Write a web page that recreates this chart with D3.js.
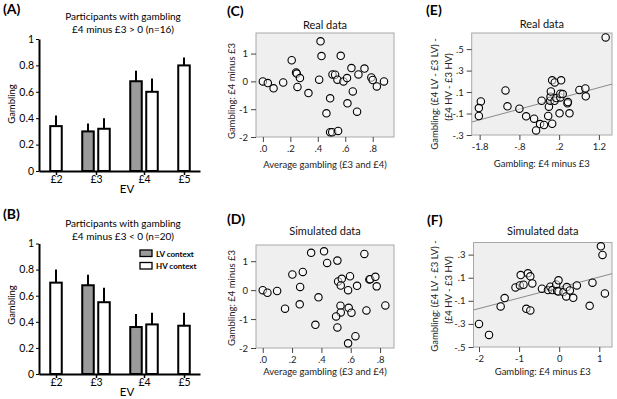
<!DOCTYPE html>
<html>
<head>
<meta charset="utf-8">
<script src="https://cdn.jsdelivr.net/npm/d3@7"></script>
<style>
  body { margin: 0; background: #fff; }
  svg { display: block; font-family: Lato, "Open Sans", sans-serif; }
</style>
</head>
<body>
<svg id="fig" width="617" height="399"></svg>
<script>
// ---- bar charts (A) and (B) ----
const evLabels = ["£2", "£3", "£4", "£5"];
const barEV = ["£2", "£3", "£3", "£4", "£4", "£5"];
const barContext = ["HV", "LV", "HV", "LV", "HV", "HV"];
const gamblingUp = [0.34, 0.30, 0.32, 0.68, 0.60, 0.80];   // £4 minus £3 > 0
const errUp = [0.08, 0.06, 0.08, 0.08, 0.10, 0.06];
const gamblingDown = [0.70, 0.68, 0.55, 0.36, 0.38, 0.37]; // £4 minus £3 < 0
const errDown = [0.10, 0.08, 0.11, 0.10, 0.09, 0.10];
const barTicks = [0, 0.2, 0.4, 0.6, 0.8, 1];
const legendLabels = ["LV context", "HV context"];

// ---- scatter (C) real / (D) simulated: average gambling vs £4 minus £3 ----
const realAvg = [0.0, 0.036, 0.078, 0.148, 0.21, 0.242, 0.247, 0.27, 0.252, 0.332, 0.42, 0.427, 0.41, 0.49, 0.463, 0.49, 0.505, 0.548, 0.507, 0.526, 0.543, 0.567, 0.587, 0.613, 0.645, 0.655, 0.616, 0.696, 0.74, 0.686, 0.79, 0.80, 0.83, 0.882];
const realDiff = [0.0, -0.06, -0.25, -0.04, 0.76, 0.32, 0.28, 0.12, -0.20, -0.42, 1.44, 0.91, 0.06, -0.61, -1.15, -1.83, -1.83, -1.78, 0.25, 0.24, 0.06, 0.92, 0.0, 0.12, 0.48, -0.36, -0.79, 0.25, 0.46, -1.09, 0.14, 0.05, -0.18, 0.0];
const simAvg = [0, 0.032, 0.098, 0.152, 0.202, 0.273, 0.255, 0.252, 0.33, 0.38, 0.418, 0.439, 0.359, 0.509, 0.514, 0.539, 0.532, 0.595, 0.582, 0.643, 0.693, 0.727, 0.733, 0.768, 0.777, 0.836, 0.53, 0.532, 0.50, 0.586, 0.605, 0.707, 0.509, 0.632, 0.582];
const simDiff = [0, -0.09, -0.03, -0.64, 0.54, 0.63, 0.11, -0.49, 1.29, -0.25, 1.34, 0.94, -1.20, 1.02, 0.30, 0.39, 0.16, 0.48, 0.0, 0.15, 1.25, 0.37, 0.38, 0.46, 0.13, -0.53, -0.54, -0.77, -0.91, -0.61, -0.78, -0.70, -1.29, -1.59, -1.84];
const avgTicks = [0, 0.2, 0.4, 0.6, 0.8];
const diffTicks = [-2, -1, 0, 1];

// ---- scatter (E) real / (F) simulated: £4 minus £3 vs context interaction ----
const realDiffE = [-1.77, -1.82, -1.82, -1.15, -1.10, -0.80, -0.63, -0.43, -0.28, -0.18, -0.38, -0.24, -0.075, -0.058, -0.025, -0.016, -0.008, 0.025, 0.09, 0.025, 0.085, 0.13, 0.23, 0.25, 0.23, 0.29, 0.21, 0.41, 0.42, 0.46, 0.71, 0.86, 0.87, 1.37];
const realInter = [0.013, -0.049, -0.123, 0.115, -0.033, -0.055, -0.126, -0.148, -0.198, -0.207, -0.257, 0.019, -0.123, -0.036, 0.019, 0.057, 0.106, 0.209, 0.19, -0.195, 0.019, 0.044, 0.05, 0.209, 0.084, 0.081, -0.098, -0.005, 0.007, -0.098, 0.119, 0.134, 0.06, 0.609];
const simDiffF = [-2.0, -1.75, -1.46, -1.36, -1.09, -0.96, -0.98, -0.89, -0.78, -0.72, -0.67, -0.82, -0.72, -0.43, -0.28, -0.22, -0.17, -0.075, -0.017, -0.05, -0.017, 0.108, 0.19, 0.175, 0.266, 0.35, 0.44, 0.76, 0.83, 1.04, 1.08, 1.14];
const simInter = [-0.30, -0.395, -0.149, -0.076, 0.016, 0.123, 0.033, 0.039, 0.138, 0.112, 0.051, -0.169, -0.183, 0.005, -0.007, 0.022, -0.007, 0.042, 0.077, -0.016, -0.019, -0.024, 0.019, -0.062, -0.01, -0.074, 0.033, -0.143, 0.057, 0.372, 0.297, -0.036];
const fitReal = [0.021, 0.10];  // intercept, slope
const fitSim = [0.015, 0.091];
const eXTicks = [-1.8, -0.8, 0.2, 1.2];
const eYTicks = [-0.3, -0.1, 0.1, 0.3, 0.5];
const fXTicks = [-2, -1, 0, 1];
const fYTicks = [-0.5, -0.3, -0.1, 0.1, 0.3];

const svg = d3.select("#fig");

// SPSS style numbers: no leading zero, plain hyphen
function spss(fmt) {
    return d => d3.format(fmt)(d).replace("−", "-").replace(/^(-?)0\./, "$1.");
}

function panelLabel(text, x, y) {
    svg.append("text").attr("x", x).attr("y", y)
        .attr("font-size", 14).attr("font-weight", "bold").text(text);
}

function barPanel(opt) {
    const g = svg.append("g");

    // slot index: +1 inside an EV group, +2 between groups
    let slot = -1;
    const bars = barEV.map((ev, i) => {
        slot += (i > 0 && barEV[i - 1] === ev) ? 1 : 2;
        return { ev: ev, ctx: barContext[i], v: opt.values[i], e: opt.errs[i], slot: slot };
    });
    const centers = evLabels.map(ev => d3.mean(bars.filter(b => b.ev === ev), b => b.slot));

    const x = d3.scaleLinear().domain([1 - 17 / 16, 10]).range([39, 200]);
    const y = d3.scaleLinear().domain([0, 1]).range(opt.yRange);
    const bw = 11.5;

    // error bars (upward only)
    g.selectAll("line.err")
        .data(bars)
        .join("line")
        .attr("class", "err")
        .attr("x1", d => x(d.slot)).attr("x2", d => x(d.slot))
        .attr("y1", d => y(d.v)).attr("y2", d => y(d.v + d.e))
        .attr("stroke", "#000").attr("stroke-width", 2);

    g.selectAll("rect.bar")
        .data(bars)
        .join("rect")
        .attr("class", "bar")
        .attr("x", d => x(d.slot) - bw / 2)
        .attr("y", d => y(d.v))
        .attr("width", bw)
        .attr("height", d => y(0) - y(d.v))
        .attr("fill", d => d.ctx === "LV" ? "#9b9b9b" : "#fff")
        .attr("stroke", "#000").attr("stroke-width", 2);

    const yAxis = g.append("g")
        .attr("transform", `translate(${x.range()[0]},0)`)
        .call(d3.axisLeft(y).tickValues(barTicks).tickFormat(d => d).tickSize(3).tickSizeOuter(0).tickPadding(2));
    yAxis.select(".domain").attr("stroke-width", 2);
    yAxis.selectAll("text").attr("font-size", 10.5).attr("font-family", "Lato").attr("fill", "#000");

    const xAxis = g.append("g")
        .attr("transform", `translate(0,${y(0)})`)
        .call(d3.axisBottom(x).tickValues(centers).tickFormat((d, i) => evLabels[i]).tickSize(4).tickSizeOuter(0).tickPadding(1));
    xAxis.select(".domain").attr("stroke-width", 2);
    xAxis.selectAll(".tick line").attr("stroke-width", 1.5);
    xAxis.selectAll("text").attr("font-size", 10.5).attr("font-family", "Lato").attr("fill", "#000");

    g.append("text").attr("x", 127).attr("y", opt.evY)
        .attr("text-anchor", "middle").attr("font-size", 11.5).text("EV");

    g.append("text")
        .attr("transform", `translate(15,${opt.yLabelY}) rotate(-90)`)
        .attr("text-anchor", "middle").attr("font-size", 9.5).text("Gambling");

    opt.title.forEach((t, i) => {
        g.append("text").attr("x", 123).attr("y", opt.titleY + i * 13)
            .attr("text-anchor", "middle").attr("font-size", 10).text(t);
    });

    if (opt.legend) {
        const lg = g.append("g").attr("transform", `translate(140,${opt.legend})`);
        legendLabels.forEach((t, i) => {
            lg.append("rect").attr("x", 0).attr("y", i * 12.5).attr("width", 12).attr("height", 6.5)
                .attr("fill", i === 0 ? "#9b9b9b" : "#fff").attr("stroke", "#000").attr("stroke-width", 1.3);
            lg.append("text").attr("x", 16).attr("y", i * 12.5 + 6.5)
                .attr("font-size", 8).attr("font-weight", "bold").text(t);
        });
    }
}

function scatterPanel(cfg) {
    const g = svg.append("g");
    const b = cfg.box;
    const x = d3.scaleLinear().domain(cfg.xDomain).range([b[0], b[1]]);
    const y = d3.scaleLinear().domain(cfg.yDomain).range([b[3], b[2]]);

    g.append("rect")
        .attr("x", b[0]).attr("y", b[2])
        .attr("width", b[1] - b[0]).attr("height", b[3] - b[2])
        .attr("fill", "#efefef").attr("stroke", "#a8a8a8").attr("stroke-width", 1);

    const xAxis = g.append("g")
        .attr("transform", `translate(0,${b[3]})`)
        .call(d3.axisBottom(x).tickValues(cfg.xTicks).tickFormat(spss(cfg.xFmt)).tickSize(5).tickSizeOuter(0).tickPadding(3));
    const yAxis = g.append("g")
        .attr("transform", `translate(${b[0]},0)`)
        .call(d3.axisLeft(y).tickValues(cfg.yTicks).tickFormat(spss(cfg.yFmt)).tickSize(5).tickSizeOuter(0).tickPadding(3));
    [xAxis, yAxis].forEach(a => {
        a.select(".domain").remove();
        a.selectAll(".tick line").attr("stroke", "#444");
        a.selectAll("text").attr("font-size", 9.5).attr("font-family", "Lato").attr("fill", "#222");
    });

    if (cfg.fit) {
        const line = d3.line().x(d => x(d)).y(d => y(cfg.fit[0] + cfg.fit[1] * d));
        g.append("path").attr("d", line(cfg.xDomain))
            .attr("fill", "none").attr("stroke", "#8a8a8a").attr("stroke-width", 1);
    }

    g.selectAll("circle")
        .data(cfg.xs.map((v, i) => [v, cfg.ys[i]]))
        .join("circle")
        .attr("cx", d => x(d[0]))
        .attr("cy", d => y(d[1]))
        .attr("r", 3.7)
        .attr("fill", "#fff").attr("fill-opacity", 0.5)
        .attr("stroke", "#000").attr("stroke-width", 1.1);

    const cx = (b[0] + b[1]) / 2;
    g.append("text").attr("x", cx).attr("y", cfg.titleY)
        .attr("text-anchor", "middle").attr("font-size", 11).attr("fill", "#111").text(cfg.title);
    g.append("text").attr("x", cfg.xLabelX || cx).attr("y", cfg.xLabelY)
        .attr("text-anchor", "middle").attr("font-size", 9.5).attr("fill", "#222").text(cfg.xLabel);
    cfg.yLabel.forEach((t, i) => {
        g.append("text")
            .attr("transform", `translate(${cfg.yLabelX + i * 14},${cfg.yLabelY[i]}) rotate(-90)`)
            .attr("text-anchor", "middle").attr("font-size", 9.5).attr("fill", "#222").text(t);
    });
}

// (A)
panelLabel("(A)", 3, 14);
barPanel({
    values: gamblingUp, errs: errUp, yRange: [171, 39],
    title: ["Participants with gambling", "£4 minus £3 > 0 (n=16)"], titleY: 20,
    evY: 192.5, yLabelY: 104
});

// (B)
panelLabel("(B)", 3, 219);
barPanel({
    values: gamblingDown, errs: errDown, yRange: [374, 243.5],
    title: ["Participants with gambling", "£4 minus £3 < 0 (n=20)"], titleY: 227,
    evY: 396, yLabelY: 305, legend: 250
});

// (C)
panelLabel("(C)", 227, 16);
scatterPanel({
    box: [256, 394, 33, 137], xDomain: [-0.05, 0.955], yDomain: [-2, 1.74],
    xTicks: avgTicks, yTicks: diffTicks, xFmt: ".1f", yFmt: "d",
    xs: realAvg, ys: realDiff,
    title: "Real data", titleY: 29,
    xLabel: "Average gambling (£3 and £4)", xLabelY: 167.5,
    yLabel: ["Gambling: £4 minus £3"], yLabelX: 235, yLabelY: [91]
});

// (D)
panelLabel("(D)", 227, 224);
scatterPanel({
    box: [256, 394, 245, 348], xDomain: [-0.046, 0.895], yDomain: [-2, 1.56],
    xTicks: avgTicks, yTicks: diffTicks, xFmt: ".1f", yFmt: "d",
    xs: simAvg, ys: simDiff,
    title: "Simulated data", titleY: 235,
    xLabel: "Average gambling (£3 and £4)", xLabelY: 375,
    yLabel: ["Gambling: £4 minus £3"], yLabelX: 235, yLabelY: [298]
});

// (E)
panelLabel("(E)", 426, 15);
scatterPanel({
    box: [471.7, 612, 33, 135], xDomain: [-2.0, 1.53], yDomain: [-0.3, 0.65],
    xTicks: eXTicks, yTicks: eYTicks, xFmt: ".1f", yFmt: ".1f",
    xs: realDiffE, ys: realInter, fit: fitReal,
    title: "Real data", titleY: 27.5,
    xLabel: "Gambling: £4 minus £3", xLabelY: 167,
    yLabel: ["Gambling: (£4 LV - £3 LV) -", "(£4 HV - £3 HV)"], yLabelX: 437.5, yLabelY: [94, 87]
});

// (F)
panelLabel("(F)", 427, 225);
scatterPanel({
    box: [473.5, 612, 242.5, 347], xDomain: [-2.137, 1.317], yDomain: [-0.5, 0.405],
    xTicks: fXTicks, yTicks: fYTicks, xFmt: "d", yFmt: ".1f",
    xs: simDiffF, ys: simInter, fit: fitSim,
    title: "Simulated data", titleY: 235,
    xLabel: "Gambling: £4 minus £3", xLabelY: 375,
    yLabel: ["Gambling: (£4 LV - £3 LV) -", "(£4 HV - £3 HV)"], yLabelX: 437.5, yLabelY: [296, 290]
});
</script>
</body>
</html>
